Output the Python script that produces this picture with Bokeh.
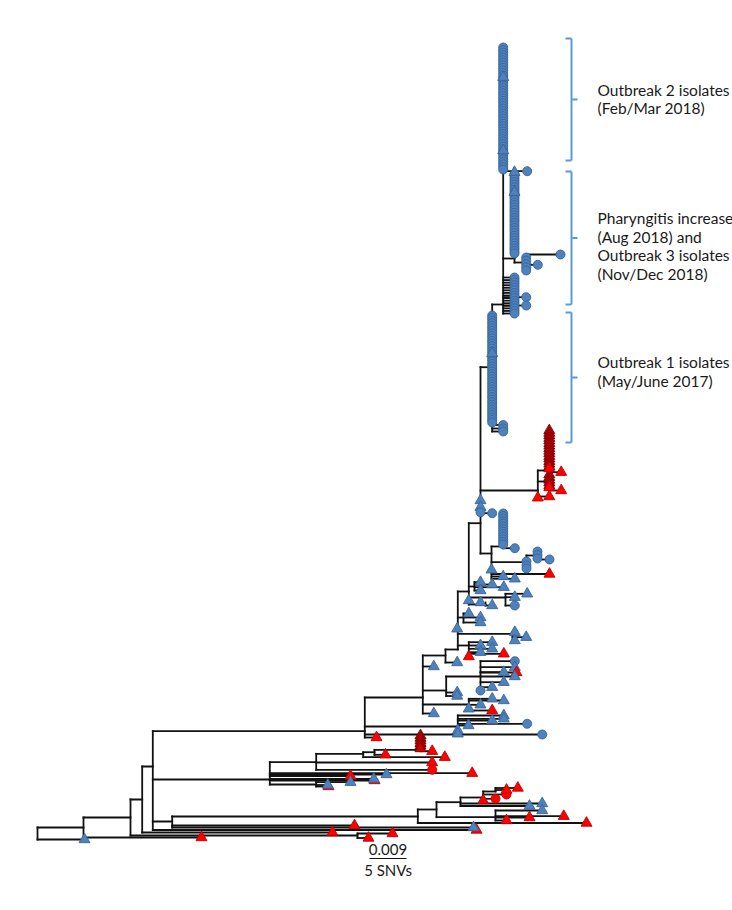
from bokeh.plotting import figure
from bokeh.models import Range1d, ColumnDataSource
from bokeh.embed import file_html
from bokeh.resources import INLINE
from bokeh.core.properties import value

# ---------------- tree data (x = divergence in px-units, y = row position) ----------------
node_name = ["root", "A", "B", "C", "D", "N172", "N417", "N436", "N460", "N483", "N495a", "N495b",
             "N357", "N269", "N316", "N363", "N374", "N420", "N316b", "N364", "N422", "N445",
             "N457", "N468", "N474", "N505", "N485", "N463", "N512", "N468b", "N446b", "N480b",
             "N468c", "N457b", "Nmain", "N491", "N503", "N526", "N537", "Nred", "R1", "R2",
             "No", "No23", "No3", "No3b"]
node_parent = ["", "root", "A", "B", "C", "D", "N172", "N417", "N436", "N460", "N483", "N436",
               "B", "D", "N269", "N316", "N363", "N374", "N269", "D", "N364", "N422",
               "N445", "N457", "N468", "N468", "N468", "N457", "N457", "N457", "N422", "N446b",
               "N422", "N364", "N468", "Nmain", "N491", "N491", "N526", "Nmain", "Nred", "Nred",
               "Nmain", "No", "No23", "No3"]
node_x = [37, 83, 130, 141.7, 152.3, 171.7, 417.3, 436, 460, 482.7, 495, 495,
          357, 269.3, 315.7, 362.7, 374, 420, 315.7, 364.3, 422.3, 445,
          457.3, 468.3, 474, 505, 485, 463, 512, 468.3, 445.7, 480,
          468.3, 457.3, 480, 491, 502.7, 526, 537, 537.3, 548.8, 548.8,
          491.7, 502.7, 514, 525.7]
node_y = [833, 827, 817, 799, 766, 821, 816, 809, 801.7, 797, 791, 816.7,
          835, 779, 761.7, 753.3, 751.7, 749.3, 784, 730.7, 697, 655,
          649, 591, 586, 597, 604, 617, 633.3, 645, 690, 676,
          704, 726, 522.7, 553, 546, 561.7, 555, 490, 470, 481,
          366.7, 304, 258, 262]

# single isolates: parent node, x, y, kind
tip_parent = ["root", "A", "C", "D", "N172", "N172", "N417", "N460", "N460", "N483", "N483", "N483",
              "N495a", "N495a", "N495b", "N495b", "N495b", "N495b", "N357", "N357",
              "N269", "N269", "N269", "N269", "N269", "N316b", "N316b", "N316b", "N316", "N316",
              "N363", "N374", "N420", "N364", "N364",
              "N457b", "N457b", "N457b", "N457b", "N457b", "N457b", "N457b",
              "N422", "N422", "N445", "N446b", "N446b",
              "N480b", "N480b", "N480b", "N480b", "N480b", "N480b", "N480b", "N480b",
              "N468c", "N468c", "N468c", "N468c", "N468c",
              "N468", "N474", "N474", "N474", "N474", "N505", "N505", "N505", "N485", "N485",
              "N463", "N463", "N463", "N457", "N512", "N512", "N512",
              "N468b", "N468b", "N468b", "N468b", "N468b", "N468b",
              "Nmain", "Nmain", "Nmain", "Nmain", "N491", "N491", "N491", "N491", "N503",
              "N526", "N526", "N526", "N537", "N537", "N537", "N537",
              "Nred", "Nred", "R1", "R1", "R2", "R2",
              "No", "No", "No", "No", "No23", "No23", "No23", "No23", "No23", "No3", "No3",
              "No3b", "No3b"]
tip_x = [84, 201, 332, 476, 354, 473, 586, 541.7, 529, 482.7, 495, 506,
         506, 517.3, 541.7, 563.3, 529, 506, 392, 368,
         471.7, 386, 350, 374, 373.3, 328, 327.3, 350, 431.7, 431.7,
         444.3, 385, 431.7, 541.7, 376,
         503.3, 503.3, 491.7, 526.7, 468, 457.3, 457.3,
         433.3, 433.3, 456.7, 456.7, 456.7,
         514.3, 514.3, 516, 503.3, 514.3, 503.3, 491.7, 480,
         491.7, 503.3, 480, 468.3, 491.7,
         468.3, 480, 491.7, 503.3, 480, 526.7, 514.3, 514.3, 480, 491.7,
         468.3, 480, 480, 456.7, 514.3, 525.7, 514.3,
         491.7, 480, 491.7, 480, 503.3, 468.3,
         480, 480, 480, 491.7, 491, 549, 502.7, 514.3, 514.3,
         526, 526, 526, 537, 537, 537, 549,
         548.8, 537.3, 548.8, 560.7, 548.8, 560.7,
         502.7, 502.7, 502.7, 491.7, 526.7, 525.7, 525.7, 502.7, 502.7, 514, 514,
         560, 537.3]
tip_y = [839, 837, 832, 829.5, 825, 827, 822.5, 803, 805.5, 800, 798.3, 794,
         789.5, 787.5, 810, 815.7, 817, 820, 833, 837.5,
         772.7, 774, 775.5, 780, 778.5, 786, 784.5, 781.7, 762, 769.3,
         756.7, 754.3, 750.7, 734, 737,
         715, 718.3, 720, 723.3, 725, 730, 733.3,
         666, 713, 662, 692, 695.5,
         660.7, 666.7, 672, 671.7, 676, 681.7, 686.7, 690,
         698.3, 700, 704.3, 708.3, 710,
         600, 581.7, 584, 586.7, 590, 593.3, 596.7, 605, 602, 605,
         613, 617, 622, 628.3, 631.7, 636.7, 640,
         641.7, 645, 648.3, 651.7, 653.3, 656,
         500, 506.7, 511.7, 512.7, 569.3, 573.5, 576, 578.3, 547.7,
         561, 565, 568, 551, 554.5, 558, 559,
         496, 497.3, 468, 471.7, 487, 490,
         424.5, 428, 431, 353, 170.7, 296.7, 305, 76.7, 150, 171.7, 191.7,
         254, 264.3]
tip_kind = ["bt", "rt", "rt", "rt", "rt", "bt", "rt", "bt", "bt", "rt", "rc", "rc",
            "rt", "rt", "bt", "rt", "rt", "rt", "rt", "rt",
            "rt", "bt", "rt", "rt", "bt", "rt", "bt", "bt", "rt", "rc",
            "rt", "rt", "rt", "bc", "rt",
            "bt", "bt", "bt", "bc", "bt", "bt", "bt",
            "bt", "bt", "bt", "bt", "bt",
            "bc", "bt", "rt", "bt", "bt", "bt", "bt", "bc",
            "bt", "bt", "bt", "bt", "rt",
            "bt", "bt", "bt", "bt", "bt", "bt", "bt", "bc", "bt", "bt",
            "bt", "bt", "bt", "bt", "bt", "bt", "bt",
            "bt", "bt", "bt", "bt", "rt", "rt",
            "bt", "bt", "bc", "bc", "bt", "rt", "bt", "bt", "bc",
            "bc", "bc", "bc", "bc", "bc", "bc", "bc",
            "rt", "rt", "rt", "rt", "rt", "rt",
            "bc", "bc", "bc", "bt", "bc", "bc", "bc", "bt", "bt", "bt", "bt",
            "bc", "bc"]

# groups of identical isolates stacked in one column: parent, x, first row, last row, count, kind
clu_parent = ["No23", "No23", "No3", "No3b", "No", "R1", "R2", "N420", "N503"]
clu_x = [502.7, 514, 514, 525.7, 491.7, 548.8, 548.8, 420, 502.7]
clu_y0 = [47, 277, 174, 257, 315, 430, 474, 735, 513]
clu_y1 = [169, 313, 253, 270, 422, 466, 485, 748, 544]
clu_n = [49, 15, 32, 5, 43, 15, 5, 6, 13]
clu_kind = ["bc", "bc", "bc", "bc", "bc", "dt", "dt", "dt", "bc"]

# annotation brackets and labels
br_top = [38, 171, 312]
br_bot = [160, 304, 442]
label_text = ["Outbreak 2 isolates", "(Feb/Mar 2018)",
              "Pharyngitis increase", "(Aug 2018)  and", "Outbreak 3 isolates", "(Nov/Dec 2018)",
              "Outbreak 1 isolates", "(May/June 2017)"]
label_y = [89, 107.5, 217.5, 236, 254.5, 273, 361, 380]
scale_len = 37          # 0.009 substitutions per site = 5 SNVs
scale_x0 = 369
scale_y = 858

# ---------------- layout ----------------
style = {
    "bc": ("circle", 9, "#4f81bd", "#38659a"),
    "bt": ("triangle", 11, "#4f81bd", "#38659a"),
    "rt": ("triangle", 11, "#ff0000", "#c00000"),
    "rc": ("circle", 9, "#ff0000", "#c00000"),
    "dt": ("triangle", 11, "#d20000", "#780000"),
}

pos = {n: (x, y) for n, x, y in zip(node_name, node_x, node_y)}
par = dict(zip(node_name, node_parent))
kids = {n: [] for n in node_name}
seg = dict(x0=[], y0=[], x1=[], y1=[])

def hline(x0, x1, y):
    if x1 > x0:
        seg["x0"].append(x0); seg["x1"].append(x1); seg["y0"].append(y); seg["y1"].append(y)

for n in node_name:
    pp = par[n]
    if pp:
        kids[pp].append(pos[n][1])
        kids[n].append(pos[n][1])
        hline(pos[pp][0], pos[n][0], pos[n][1])

mk = dict(x=[], y=[], marker=[], size=[], fill=[], line=[])

def add_marker(x, y, kind):
    m, s, f, l = style[kind]
    mk["x"].append(x); mk["y"].append(y); mk["marker"].append(m)
    mk["size"].append(s); mk["fill"].append(f); mk["line"].append(l)

for cp, cx, a, b, cn, ck in zip(clu_parent, clu_x, clu_y0, clu_y1, clu_n, clu_kind):
    for i in range(cn):
        yy = a + (b - a) * i / (cn - 1)
        kids[cp].append(yy)
        hline(pos[cp][0], cx, yy)
        add_marker(cx, yy, ck)

for tp, tx, ty, tk in zip(tip_parent, tip_x, tip_y, tip_kind):
    kids[tp].append(ty)
    hline(pos[tp][0], tx, ty)
    add_marker(tx, ty, tk)

for n in node_name:
    if len(kids[n]) > 1:
        seg["x0"].append(pos[n][0]); seg["x1"].append(pos[n][0])
        seg["y0"].append(min(kids[n])); seg["y1"].append(max(kids[n]))

W, H = 732, 900
p = figure(width=W, height=H, output_backend="svg", toolbar_location=None,
           x_range=Range1d(0, W), y_range=Range1d(H, 0),
           x_axis_location=None, y_axis_location=None, min_border=0)
p.grid.visible = False
p.outline_line_color = None

p.segment(x0="x0", y0="y0", x1="x1", y1="y1", source=ColumnDataSource(seg),
          line_color="#111111", line_width=1.8, line_cap="square")
p.scatter(x="x", y="y", marker="marker", size="size", fill_color="fill", line_color="line",
          line_width=0.9, source=ColumnDataSource(mk))

# brackets
bx = 571
bseg = dict(x0=[], y0=[], x1=[], y1=[])
for t, b in zip(br_top, br_bot):
    m = (t + b) / 2
    for (a0, b0, a1, b1) in [(bx, t, bx, b), (bx - 6, t, bx, t), (bx - 6, b, bx, b), (bx, m, bx + 6, m)]:
        bseg["x0"].append(a0); bseg["y0"].append(b0); bseg["x1"].append(a1); bseg["y1"].append(b1)
p.segment(x0="x0", y0="y0", x1="x1", y1="y1", source=ColumnDataSource(bseg),
          line_color="#5b9bd5", line_width=2)

p.text(x=[597] * len(label_text), y=label_y, text=label_text, text_font=value("Lato"),
       text_font_size="15.5px", text_baseline="middle", text_align="left", text_color="#1a1a1a")

# scale bar
p.segment(x0=[scale_x0], y0=[scale_y], x1=[scale_x0 + scale_len], y1=[scale_y],
          line_color="#111111", line_width=1.2)
p.text(x=[scale_x0 + scale_len / 2] * 2, y=[scale_y - 9, scale_y + 11], text=["0.009", "5 SNVs"],
       text_font=value("Lato"), text_font_size="15px", text_baseline="middle", text_align="center",
       text_color="#1a1a1a")

open("out.html", "w").write(file_html(p, INLINE))
